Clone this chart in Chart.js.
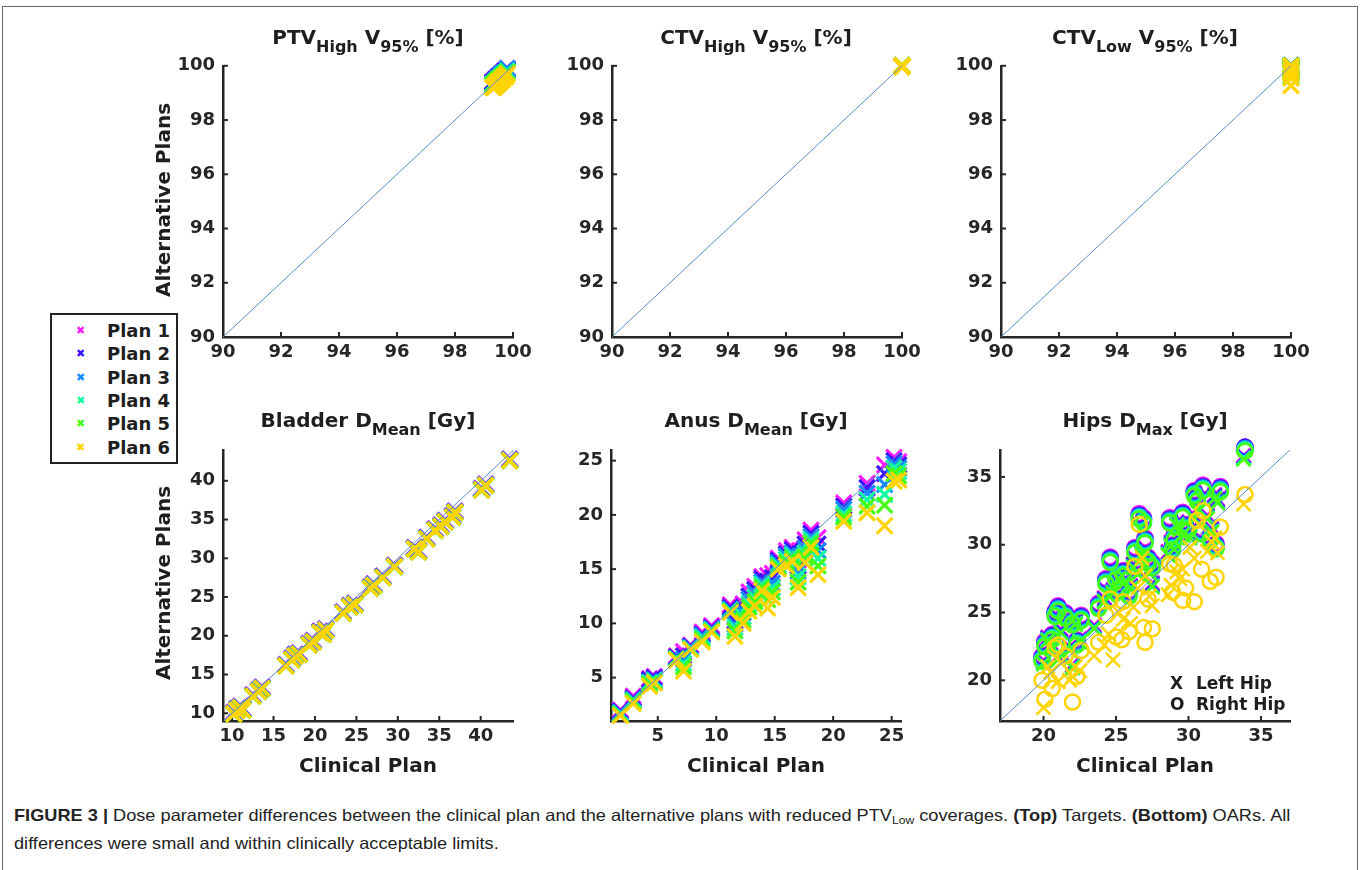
<!DOCTYPE html>
<html>
<head>
<meta charset="utf-8">
<script src="https://cdn.jsdelivr.net/npm/chart.js@4.4.1/dist/chart.umd.min.js"></script>
<style>
  body { margin: 0; width: 1360px; height: 870px; background: #fff; position: relative; overflow: hidden;
         font-family: 'DejaVu Sans', sans-serif; color: #1e1e1e; }
  .frame { position: absolute; left: 2px; top: 6px; width: 1354px; height: 880px; border: 1.5px solid #666; }
  canvas { position: absolute; }
  .ttl { position: absolute; font-weight: bold; font-size: 20px; line-height: 20px; white-space: nowrap; transform: translateX(-50%); }
  .ttl sub { font-size: 16px; vertical-align: -0.5em; line-height: 0; }
  .ylab { position: absolute; font-weight: bold; font-size: 20px; line-height: 20px; white-space: nowrap;
          transform: translate(-50%, -50%) rotate(-90deg); }
  .xlab { position: absolute; font-weight: bold; font-size: 20px; line-height: 20px; white-space: nowrap; transform: translateX(-50%); }
  .legend { position: absolute; left: 50px; top: 313px; width: 124px; height: 147px; border: 2px solid #222; background: #fff; }
  .legend div { position: absolute; left: 0; font-weight: bold; font-size: 18px; line-height: 20px; white-space: nowrap; }
  .legend span.mk { position: absolute; left: 24px; font-size: 11px; }
  .legend span.tx { position: absolute; left: 55px; }
  .hipkey { position: absolute; left: 1170px; top: 673px; font-weight: bold; font-size: 17px; line-height: 21px; white-space: nowrap; }
  .hipkey b { display: inline-block; width: 26px; }
  .cap { position: absolute; left: 14px; font-family: 'Liberation Sans Narrow', 'Liberation Sans', Arial, sans-serif;
         font-size: 16.5px; line-height: 20px; white-space: nowrap; color: #222; transform-origin: 0 0; }
  .cap sub { font-size: 11px; vertical-align: -0.3em; line-height: 0; }
</style>
</head>
<body>
<div class="frame"></div>

<canvas id="c1" width="380" height="325"></canvas>
<canvas id="c2" width="380" height="325"></canvas>
<canvas id="c3" width="380" height="325"></canvas>
<canvas id="c4" width="380" height="325"></canvas>
<canvas id="c5" width="380" height="325"></canvas>
<canvas id="c6" width="380" height="325"></canvas>

<div class="ttl" style="left:368px;top:27px">PTV<sub>High</sub> V<sub>95%</sub> [%]</div>
<div class="ttl" style="left:756px;top:27px">CTV<sub>High</sub> V<sub>95%</sub> [%]</div>
<div class="ttl" style="left:1145px;top:27px">CTV<sub>Low</sub> V<sub>95%</sub> [%]</div>
<div class="ttl" style="left:368px;top:410px">Bladder D<sub>Mean</sub> [Gy]</div>
<div class="ttl" style="left:756px;top:410px">Anus D<sub>Mean</sub> [Gy]</div>
<div class="ttl" style="left:1145px;top:410px">Hips D<sub>Max</sub> [Gy]</div>

<div class="ylab" style="left:163px;top:200px">Alternative Plans</div>
<div class="ylab" style="left:163px;top:583px">Alternative Plans</div>
<div class="xlab" style="left:368px;top:755px">Clinical Plan</div>
<div class="xlab" style="left:756px;top:755px">Clinical Plan</div>
<div class="xlab" style="left:1145px;top:755px">Clinical Plan</div>

<div class="legend" id="legend"></div>

<div class="hipkey"><b>X</b>Left Hip<br><b>O</b>Right Hip</div>

<div class="cap" id="cap1" style="top:805px"><b>FIGURE 3 |</b> Dose parameter differences between the clinical plan and the alternative plans with reduced PTV<sub>Low</sub> coverages. <b>(Top)</b> Targets. <b>(Bottom)</b> OARs. All</div>
<div class="cap" id="cap2" style="top:833px">differences were small and within clinically acceptable limits.</div>

<script>
// ---- data ----
const planNames = ['Plan 1', 'Plan 2', 'Plan 3', 'Plan 4', 'Plan 5', 'Plan 6'];

const topTicks = [90, 92, 94, 96, 98, 100];
const bladderTicks = [10, 15, 20, 25, 30, 35, 40];
const anusTicks = [5, 10, 15, 20, 25];
const hipsTicks = [20, 25, 30, 35];

// identity line end points
const topDiag = [90, 100];
const bladderDiag = [8.9, 44];
const anusDiag = [1, 26];
const hipsDiag = [17, 37];

// PTV High V95%
const ptvClin = [99.3, 99.4, 99.5, 99.6, 99.7, 99.8, 99.45, 99.55, 99.65, 99.35, 99.75, 99.5];
const ptvAlt = [
  [99.4, 99.5, 99.6, 99.7, 99.8, 99.9, 99.5, 99.6, 99.7, 99.4, 99.8, 99.6],
  [99.4, 99.5, 99.6, 99.7, 99.8, 99.85, 99.5, 99.6, 99.7, 99.4, 99.8, 99.55],
  [99.35, 99.45, 99.55, 99.7, 99.75, 99.9, 99.45, 99.55, 99.65, 99.35, 99.75, 99.5],
  [99.3, 99.4, 99.5, 99.6, 99.7, 99.8, 99.4, 99.5, 99.6, 99.3, 99.7, 99.5],
  [99.3, 99.4, 99.5, 99.55, 99.65, 99.75, 99.4, 99.5, 99.6, 99.3, 99.65, 99.45],
  [99.2, 99.3, 99.4, 99.5, 99.6, 99.7, 99.3, 99.4, 99.5, 99.2, 99.6, 99.4]
];

// CTV High V95%
const ctvHighClin = [100, 100, 100, 100, 100, 100];
const ctvHighAlt = [
  [100, 100, 100, 100, 100, 100],
  [100, 100, 100, 100, 100, 100],
  [100, 100, 100, 100, 100, 100],
  [100, 100, 100, 100, 100, 100],
  [100, 100, 100, 100, 100, 99.98],
  [100, 100, 100, 100, 99.98, 99.95]
];

// CTV Low V95%
const ctvLowClin = [100, 100, 100, 100, 100, 100];
const ctvLowAlt = [
  [100, 100, 100, 100, 100, 99.9],
  [100, 100, 100, 100, 99.95, 99.85],
  [100, 100, 100, 99.95, 99.9, 99.8],
  [100, 100, 99.95, 99.9, 99.85, 99.7],
  [100, 99.95, 99.9, 99.85, 99.75, 99.6],
  [100, 99.9, 99.8, 99.7, 99.55, 99.27]
];

// Bladder Dmean
const bladderClin = [10.2, 10.6, 11.0, 11.3, 12.5, 13.2, 13.6, 16.5, 17.2, 17.6, 18.1, 19.3, 19.8, 20.6, 21.0, 21.3, 23.4, 24.2, 24.8, 26.7, 27.1, 28.2, 29.6, 32.0, 32.5, 33.5, 34.5, 35.2, 35.7, 36.6, 36.9, 40.1, 40.6, 43.5];
const bladderAlt = [
  [10.1, 10.6, 10.9, 10.6, 12.4, 13.0, 13.4, 16.3, 17.1, 17.6, 17.8, 19.0, 19.4, 20.6, 20.4, 20.9, 23.1, 23.9, 24.2, 26.3, 26.7, 27.7, 29.1, 31.4, 31.0, 32.7, 33.8, 34.3, 34.9, 35.5, 36.1, 39.0, 39.6, 42.8],
  [10.0, 10.5, 10.8, 10.5, 12.3, 12.9, 13.3, 16.2, 17.0, 17.5, 17.7, 18.9, 19.3, 20.5, 20.3, 20.8, 23.0, 23.8, 24.1, 26.2, 26.6, 27.6, 29.0, 31.3, 30.9, 32.6, 33.7, 34.2, 34.8, 35.4, 36.0, 38.9, 39.5, 42.7],
  [10.0, 10.5, 10.8, 10.5, 12.3, 12.9, 13.3, 16.2, 17.0, 17.5, 17.7, 18.9, 19.3, 20.5, 20.3, 20.8, 23.0, 23.8, 24.1, 26.2, 26.6, 27.6, 29.0, 31.3, 30.9, 32.6, 33.7, 34.2, 34.8, 35.4, 36.0, 38.9, 39.5, 42.7],
  [9.9, 10.4, 10.7, 10.4, 12.2, 12.8, 13.2, 16.1, 16.9, 17.4, 17.6, 18.8, 19.2, 20.4, 20.2, 20.7, 22.9, 23.7, 24.0, 26.1, 26.5, 27.5, 28.9, 31.2, 30.8, 32.5, 33.6, 34.1, 34.7, 35.3, 35.9, 38.8, 39.4, 42.6],
  [9.9, 10.4, 10.7, 10.4, 12.2, 12.8, 13.2, 16.1, 16.9, 17.4, 17.6, 18.8, 19.2, 20.4, 20.2, 20.7, 22.9, 23.7, 24.0, 26.1, 26.5, 27.5, 28.9, 31.2, 30.8, 32.5, 33.6, 34.1, 34.7, 35.3, 35.9, 38.8, 39.4, 42.6],
  [9.9, 10.4, 10.7, 10.4, 12.2, 12.8, 13.2, 16.1, 16.9, 17.4, 17.6, 18.8, 19.2, 20.4, 20.2, 20.7, 22.9, 23.7, 24.0, 26.1, 26.5, 27.5, 28.9, 31.2, 30.8, 32.5, 33.6, 34.1, 34.7, 35.3, 35.9, 38.8, 39.4, 42.6]
];

// Anus Dmean
const anusClin = [1.8, 2.9, 4.3, 4.7, 6.6, 7.2, 7.8, 8.8, 9.6, 11.2, 11.6, 12.3, 12.8, 13.3, 13.9, 14.4, 14.8, 15.3, 16.0, 16.5, 17.0, 17.6, 18.1, 18.7, 20.9, 22.9, 24.4, 25.2, 25.6];
const anusAlt = [
  [2.0, 3.3, 4.9, 5.1, 7.0, 7.4, 8.0, 9.2, 9.8, 11.7, 10.6, 11.8, 12.9, 13.4, 14.3, 14.4, 14.6, 16.0, 16.7, 17.0, 15.8, 17.7, 18.6, 17.9, 21.1, 22.9, 24.6, 25.3, 24.9],
  [1.9, 3.1, 4.8, 5.0, 6.9, 7.0, 7.9, 9.0, 9.6, 11.5, 10.2, 11.4, 12.5, 13.1, 14.1, 13.9, 14.2, 15.8, 16.4, 16.8, 15.3, 17.3, 18.3, 17.3, 20.8, 22.5, 23.8, 25.0, 24.6],
  [1.8, 3.0, 4.6, 4.8, 6.8, 6.7, 7.8, 8.9, 9.5, 11.3, 9.9, 11.0, 12.2, 12.8, 13.8, 13.4, 13.7, 15.6, 16.2, 16.5, 14.8, 16.9, 18.0, 16.7, 20.5, 22.0, 22.8, 24.7, 24.3],
  [1.7, 2.9, 4.5, 4.7, 6.7, 6.3, 7.7, 8.7, 9.4, 11.2, 9.6, 10.6, 11.8, 12.4, 13.6, 12.8, 13.3, 15.4, 15.9, 16.3, 14.3, 16.5, 17.7, 16.0, 20.1, 21.4, 21.9, 24.3, 24.0],
  [1.6, 2.8, 4.4, 4.6, 6.7, 6.0, 7.6, 8.5, 9.3, 11.1, 9.3, 10.3, 11.5, 12.0, 13.3, 12.2, 12.9, 15.2, 15.6, 16.0, 13.8, 16.1, 17.4, 15.3, 19.8, 20.8, 20.9, 23.8, 23.6],
  [1.5, 2.6, 4.2, 4.5, 6.6, 5.6, 7.6, 8.3, 9.2, 11.0, 8.8, 10.0, 11.1, 11.6, 13.0, 11.4, 12.4, 15.0, 15.3, 15.7, 13.3, 15.6, 17.0, 14.5, 19.4, 20.2, 19.0, 23.1, 23.2]
];

// Hips Dmax, left hip (x) and right hip (o)
const hipLeftClin = [20.0, 20.5, 21.2, 21.8, 22.2, 23.5, 24.2, 24.8, 25.5, 26.2, 26.8, 27.3, 28.8, 29.4, 30.1, 30.7, 31.3, 32.0, 33.8, 20.3, 22.0, 26.0, 27.5, 29.2, 31.8, 21.0, 22.5, 24.5, 25.2, 26.5, 27.0, 29.6, 30.4, 31.6, 28.6];
const hipLeftAlt = [
  [21.5, 22.8, 23.8, 22.5, 24.4, 24.1, 26.1, 26.7, 27.4, 28.6, 29.5, 28.2, 30.2, 31.4, 30.8, 32.8, 32.2, 33.4, 36.6, 23.2, 21.2, 27.0, 27.2, 31.7, 33.7, 21.8, 23.1, 26.5, 27.8, 28.1, 28.8, 31.0, 32.2, 31.2, 29.5],
  [21.4, 22.7, 23.7, 22.4, 24.3, 24.0, 26.0, 26.6, 27.3, 28.5, 29.4, 28.1, 30.1, 31.3, 30.7, 32.7, 32.1, 33.3, 36.5, 23.1, 21.1, 26.9, 27.1, 31.6, 33.6, 21.7, 23.0, 26.4, 27.7, 28.0, 28.7, 30.9, 32.1, 31.1, 29.4],
  [21.3, 22.6, 23.6, 22.3, 24.2, 23.9, 25.9, 26.5, 27.2, 28.4, 29.3, 28.0, 30.0, 31.2, 30.6, 32.6, 32.0, 33.2, 36.4, 23.0, 21.0, 26.8, 27.0, 31.5, 33.5, 21.6, 22.9, 26.3, 27.6, 27.9, 28.6, 30.8, 32.0, 31.0, 29.3],
  [21.3, 22.6, 23.5, 22.3, 24.2, 23.9, 25.8, 26.5, 27.2, 28.3, 29.3, 28.0, 29.9, 31.1, 30.6, 32.5, 32.0, 33.1, 36.4, 23.0, 21.0, 26.8, 26.9, 31.5, 33.4, 21.6, 22.9, 26.3, 27.5, 27.9, 28.6, 30.8, 31.9, 31.0, 29.3],
  [21.2, 22.5, 23.5, 22.2, 24.1, 23.8, 25.8, 26.4, 27.1, 28.3, 29.2, 27.9, 29.9, 31.1, 30.5, 32.5, 31.9, 33.1, 36.3, 22.9, 20.9, 26.7, 26.9, 31.4, 33.4, 21.5, 22.8, 26.2, 27.5, 27.8, 28.5, 30.7, 31.9, 30.9, 29.2],
  [18.0, 20.6, 21.3, 20.0, 21.0, 21.8, 22.6, 21.5, 24.5, 25.4, 29.0, 26.2, 27.0, 27.5, 29.8, 31.5, 29.5, 29.4, 33.0, 21.0, 20.3, 24.2, 25.5, 28.0, 30.5, 19.9, 20.7, 23.4, 25.0, 26.8, 27.7, 28.2, 29.0, 30.2, 26.3]
];
const hipRightClin = [20.1, 20.6, 21.0, 22.0, 22.3, 23.8, 24.6, 25.0, 25.9, 26.6, 27.0, 27.5, 29.0, 29.6, 30.4, 31.0, 31.5, 32.2, 33.9, 19.9, 21.5, 25.5, 26.9, 28.9, 30.9, 20.8, 22.6, 24.3, 25.4, 26.3, 27.2, 29.8, 30.6, 31.9, 28.7];
const hipRightAlt = [
  [22.9, 23.4, 25.5, 24.5, 23.0, 25.7, 29.1, 27.8, 26.6, 32.3, 30.5, 28.7, 30.7, 32.4, 34.0, 34.4, 30.7, 34.3, 37.2, 21.8, 25.0, 28.1, 32.0, 30.0, 31.2, 25.1, 24.8, 27.5, 27.1, 29.8, 29.1, 31.5, 33.6, 30.1, 32.0],
  [22.8, 23.3, 25.4, 24.4, 22.9, 25.6, 29.0, 27.7, 26.5, 32.2, 30.4, 28.6, 30.6, 32.3, 33.9, 34.3, 30.6, 34.2, 37.2, 21.7, 24.9, 28.0, 31.9, 29.9, 31.1, 25.0, 24.7, 27.4, 27.0, 29.7, 29.0, 31.4, 33.5, 30.0, 31.9],
  [22.7, 23.2, 25.3, 24.3, 22.8, 25.5, 28.9, 27.6, 26.4, 32.1, 30.3, 28.5, 30.5, 32.2, 33.8, 34.2, 30.5, 34.1, 37.1, 21.6, 24.8, 27.9, 31.8, 29.8, 31.0, 24.9, 24.6, 27.3, 26.9, 29.6, 28.9, 31.3, 33.4, 29.9, 31.8],
  [22.6, 23.1, 25.2, 24.2, 22.7, 25.4, 28.8, 27.5, 26.3, 32.0, 30.2, 28.4, 30.4, 32.1, 33.7, 34.1, 30.4, 34.0, 37.0, 21.5, 24.7, 27.8, 31.7, 29.7, 30.9, 24.8, 24.5, 27.2, 26.8, 29.5, 28.8, 31.2, 33.3, 29.8, 31.7],
  [22.5, 23.0, 25.1, 24.1, 22.6, 25.3, 28.7, 27.4, 26.2, 31.9, 30.1, 28.3, 30.3, 32.0, 33.6, 34.0, 30.3, 33.9, 36.9, 21.4, 24.6, 27.7, 31.6, 29.6, 30.8, 24.7, 24.4, 27.1, 26.7, 29.4, 28.7, 31.1, 33.2, 29.7, 31.6],
  [18.6, 19.4, 22.6, 18.4, 20.3, 22.8, 26.0, 23.2, 23.6, 31.5, 22.8, 23.8, 28.5, 25.9, 25.8, 32.5, 27.3, 31.3, 33.7, 20.0, 21.8, 25.8, 23.9, 26.5, 28.2, 22.4, 22.2, 24.8, 23.0, 28.4, 26.0, 26.8, 31.8, 27.6, 28.6]
];

// ---- styles ----
const planColors = ['#ff1aff', '#3d14ff', '#148cff', '#14ffa0', '#46ff14', '#ffd400'];
const axisColor = '#262626';
const diagColor = '#5a8cc8';
const tickFont = { family: 'DejaVu Sans', weight: 'bold', size: 18 };

// legend
const legend = document.getElementById('legend');
planNames.forEach((name, i) => {
  const row = document.createElement('div');
  row.style.top = (6 + i * 23.3) + 'px';
  row.innerHTML = `<span class="mk" style="color:${planColors[i]}">✖</span><span class="tx">${name}</span>`;
  legend.appendChild(row);
});

// small inward tick marks, like the original axes
const inwardTicks = {
  id: 'inwardTicks',
  beforeDatasetsDraw(chart) {
    const { ctx, chartArea, scales } = chart;
    ctx.save();
    ctx.strokeStyle = axisColor;
    ctx.lineWidth = 2;
    scales.x.ticks.forEach(t => {
      const px = scales.x.getPixelForValue(t.value);
      ctx.beginPath(); ctx.moveTo(px, chartArea.bottom); ctx.lineTo(px, chartArea.bottom - 5); ctx.stroke();
    });
    scales.y.ticks.forEach(t => {
      const py = scales.y.getPixelForValue(t.value);
      ctx.beginPath(); ctx.moveTo(chartArea.left, py); ctx.lineTo(chartArea.left + 5, py); ctx.stroke();
    });
    ctx.restore();
  }
};

function planSets(clin, alt, style, radius, width) {
  return alt.map((vals, p) => ({
    type: 'scatter',
    label: planNames[p],
    data: clin.map((c, i) => ({ x: c, y: vals[i] })),
    pointStyle: style,
    pointRadius: radius,
    pointBorderWidth: width,
    pointBorderColor: planColors[p],
    pointBackgroundColor: 'rgba(0,0,0,0)',
    order: 6 - p,
    clip: false
  }));
}

function diagSet(diag) {
  return {
    type: 'line',
    data: diag.map(v => ({ x: v, y: v })),
    borderColor: diagColor,
    borderWidth: 1,
    pointRadius: 0,
    order: 0
  };
}

function makeChart(id, left, top, xr, yr, xt, yt, datasets) {
  const cv = document.getElementById(id);
  cv.style.left = (left - 60) + 'px';
  cv.style.top = (top - 15) + 'px';
  const scale = (range, ticks, horiz) => ({
    type: 'linear',
    min: range[0],
    max: range[1],
    afterBuildTicks: s => { s.ticks = ticks.map(v => ({ value: v })); },
    afterFit: s => { if (horiz) s.height = 35; else s.width = 60; },
    grid: { display: false, drawTicks: false },
    border: { display: true, color: axisColor, width: 2.5 },
    ticks: { color: axisColor, font: tickFont, padding: horiz ? 5 : 8, maxRotation: 0, autoSkip: false }
  });
  return new Chart(cv, {
    type: 'scatter',
    data: { datasets },
    options: {
      responsive: false,
      animation: false,
      events: [],
      layout: { padding: { left: 0, top: 15, right: 30, bottom: 0 } },
      plugins: { legend: { display: false }, tooltip: { enabled: false } },
      scales: { x: scale(xr, xt, true), y: scale(yr, yt, false) }
    },
    plugins: [inwardTicks]
  });
}

makeChart('c1', 223, 62, [90, 100], [90, 100], topTicks, topTicks,
  [diagSet(topDiag), ...planSets(ptvClin, ptvAlt, 'crossRot', 11, 3.5)]);
makeChart('c2', 612, 62, [90, 100], [90, 100], topTicks, topTicks,
  [diagSet(topDiag), ...planSets(ctvHighClin, ctvHighAlt, 'crossRot', 11, 3.5)]);
makeChart('c3', 1001, 62, [90, 100], [90, 100], topTicks, topTicks,
  [diagSet(topDiag), ...planSets(ctvLowClin, ctvLowAlt, 'crossRot', 11, 3.5)]);
makeChart('c4', 223, 446, [8.9, 43.9], [9, 44], bladderTicks, bladderTicks,
  [diagSet(bladderDiag), ...planSets(bladderClin, bladderAlt, 'crossRot', 11, 3.5)]);
makeChart('c5', 611, 446, [1, 25.8], [1, 26], anusTicks, anusTicks,
  [diagSet(anusDiag), ...planSets(anusClin, anusAlt, 'crossRot', 11, 3.2)]);
makeChart('c6', 1000, 446, [17, 37], [17, 37], hipsTicks, hipsTicks,
  [diagSet(hipsDiag),
   ...planSets(hipLeftClin, hipLeftAlt, 'crossRot', 10, 2.5),
   ...planSets(hipRightClin, hipRightAlt, 'circle', 7.5, 2.5)]);

// squeeze the caption like the condensed journal font
const cap1 = document.getElementById('cap1');
const cap2 = document.getElementById('cap2');
const k = 1276 / cap1.scrollWidth;
cap1.style.transform = `scaleX(${k})`;
cap2.style.transform = `scaleX(${k})`;
</script>
</body>
</html>
